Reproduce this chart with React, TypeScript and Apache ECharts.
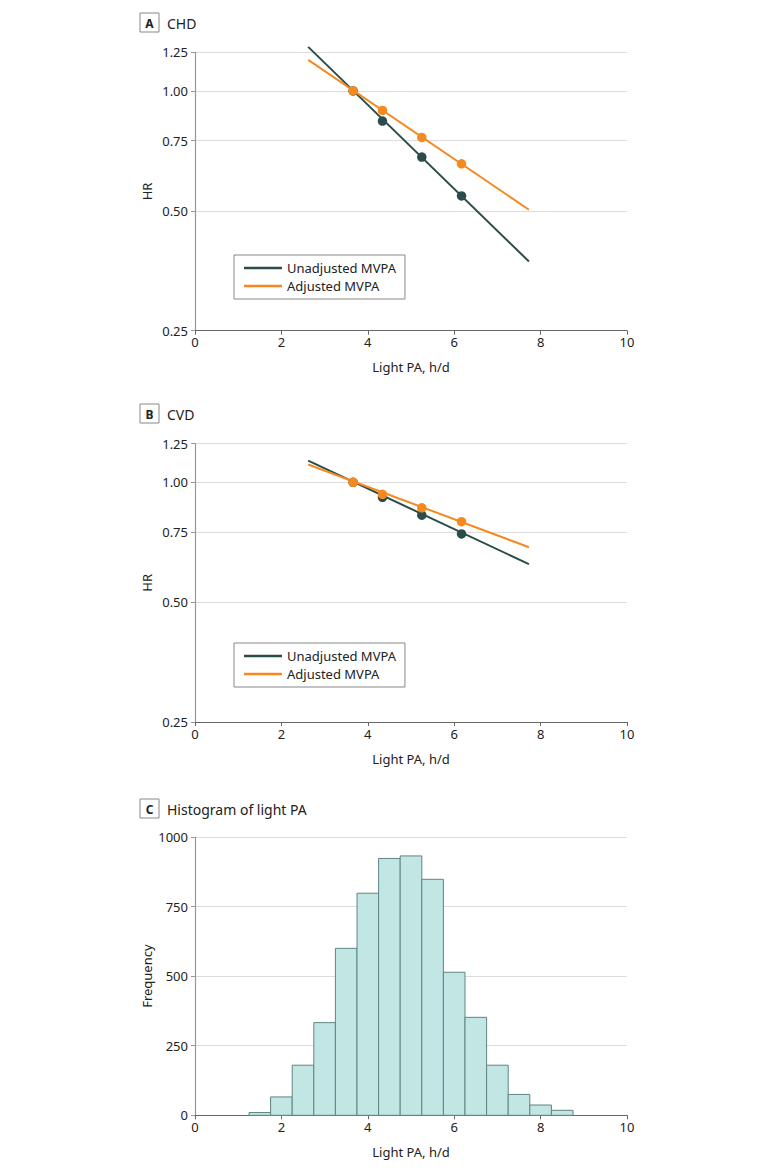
import React, { useEffect, useRef } from "react";
import * as echarts from "echarts";

// ---- Data ----
const hrTicks = [0.25, 0.5, 0.75, 1.0, 1.25];

// Panel A: CHD
const chdUnadjLine = [[2.62, 1.29], [7.73, 0.373]];
const chdUnadjPoints = [[3.66, 1.0], [4.34, 0.84], [5.25, 0.682], [6.17, 0.545]];
const chdAdjLine = [[2.62, 1.196], [7.73, 0.503]];
const chdAdjPoints = [[3.66, 1.0], [4.34, 0.893], [5.25, 0.764], [6.17, 0.656]];

// Panel B: CVD
const cvdUnadjLine = [[2.62, 1.133], [7.73, 0.623]];
const cvdUnadjPoints = [[3.66, 1.0], [4.34, 0.917], [5.25, 0.827], [6.17, 0.742]];
const cvdAdjLine = [[2.62, 1.108], [7.73, 0.687]];
const cvdAdjPoints = [[3.66, 1.0], [4.34, 0.933], [5.25, 0.863], [6.17, 0.796]];

// Panel C: histogram of light PA (bin starts, width 0.5 h/d)
const binStarts = [1.25, 1.75, 2.25, 2.75, 3.25, 3.75, 4.25, 4.75, 5.25, 5.75, 6.25, 6.75, 7.25, 7.75, 8.25];
const binWidth = 0.5;
const binCounts = [10, 66, 180, 333, 600, 798, 923, 932, 848, 514, 352, 180, 75, 37, 18];

const seriesNames = ["Unadjusted MVPA", "Adjusted MVPA"];

const DARK = "#2b4d4a";
const ORANGE = "#f5891f";
const FONT = "Noto Sans";

export default function App() {
  const ref = useRef<HTMLDivElement>(null);

  useEffect(() => {
    document.body.style.margin = "0";
    const chart = echarts.init(ref.current!, null, { renderer: "svg" });

    const grids = [
      { left: 195, top: 52.3, width: 432, height: 278.4 },
      { left: 195, top: 443.7, width: 432, height: 278.3 },
      { left: 195, top: 837, width: 432, height: 278.3 },
    ];

    const xAxis = [0, 1, 2].map((i) => ({
      type: "value",
      gridIndex: i,
      min: 0,
      max: 10,
      interval: 2,
      name: "Light PA, h/d",
      nameLocation: "middle",
      nameGap: 30,
      nameTextStyle: { fontFamily: FONT, fontSize: 13, color: "#222" },
      axisLine: { show: true, lineStyle: { color: "#666", width: 1.2 } },
      axisTick: { show: true, length: 4, lineStyle: { color: "#666" } },
      axisLabel: { fontFamily: FONT, fontSize: 13, color: "#222", margin: 5 },
      splitLine: { show: false },
    }));

    const hrAxis = (i: number) => ({
      type: "log",
      logBase: 10,
      gridIndex: i,
      min: 0.25,
      max: 1.25,
      name: "HR",
      nameLocation: "middle",
      nameGap: 42,
      nameMoveOverlap: false,
      nameTextStyle: { fontFamily: FONT, fontSize: 13, color: "#222" },
      axisLine: { show: true, lineStyle: { color: "#999", width: 1.2 } },
      axisTick: { show: true, length: 4, lineStyle: { color: "#999" }, customValues: hrTicks },
      axisLabel: {
        fontFamily: FONT,
        fontSize: 13,
        color: "#222",
        margin: 7,
        customValues: hrTicks,
        formatter: (v: number) => Number(v).toFixed(2),
      },
      splitLine: { show: true, lineStyle: { color: "#dcdcdc", width: 1.2 } },
    });

    const yAxis = [
      hrAxis(0),
      hrAxis(1),
      {
        type: "value",
        gridIndex: 2,
        min: 0,
        max: 1000,
        interval: 250,
        name: "Frequency",
        nameLocation: "middle",
        nameGap: 42,
        nameMoveOverlap: false,
        nameTextStyle: { fontFamily: FONT, fontSize: 13, color: "#222" },
        axisLine: { show: true, lineStyle: { color: "#999", width: 1.2 } },
        axisTick: { show: true, length: 4, lineStyle: { color: "#999" } },
        axisLabel: {
          fontFamily: FONT,
          fontSize: 13,
          color: "#222",
          margin: 7,
          formatter: (v: number) => String(v),
        },
        splitLine: { show: true, lineStyle: { color: "#dcdcdc", width: 1.2 } },
      },
    ];

    const lineSeries = (name: string, data: number[][], idx: number, color: string, z: number) => ({
      type: "line",
      name,
      xAxisIndex: idx,
      yAxisIndex: idx,
      data,
      color,
      symbol: "none",
      clip: false,
      lineStyle: { color, width: 2 },
      z,
      silent: true,
    });
    const pointSeries = (name: string, data: number[][], idx: number, color: string, z: number) => ({
      type: "scatter",
      name,
      xAxisIndex: idx,
      yAxisIndex: idx,
      data,
      color,
      symbol: "circle",
      symbolSize: 9.5,
      itemStyle: { color, opacity: 1 },
      z,
      silent: true,
    });

    const histData = binStarts.map((s, i) => [s, s + binWidth, binCounts[i]]);

    const legendBase = {
      orient: "vertical",
      data: seriesNames,
      icon: "rect",
      itemWidth: 38,
      itemHeight: 2.5,
      itemGap: 4,
      padding: [6, 9, 6, 10],
      borderColor: "#888",
      borderWidth: 1,
      selectedMode: false,
      textStyle: { fontFamily: FONT, fontSize: 13, color: "#222", lineHeight: 14 },
    };

    const panelLabel = (letter: string, title: string, top: number) => [
      {
        type: "rect",
        shape: { x: 140, y: top, width: 19, height: 19 },
        style: { fill: "#fff", stroke: "#888", lineWidth: 1 },
      },
      {
        type: "text",
        x: 149.5,
        y: top + 10,
        style: {
          text: letter,
          fontFamily: FONT,
          fontWeight: "bold",
          fontSize: 12,
          fill: "#222",
          align: "center",
          verticalAlign: "middle",
        },
      },
      {
        type: "text",
        x: 167,
        y: top + 10,
        style: {
          text: title,
          fontFamily: FONT,
          fontSize: 14,
          fill: "#222",
          align: "left",
          verticalAlign: "middle",
        },
      },
    ];

    chart.setOption({
      animation: false,
      backgroundColor: "#fff",
      grid: grids,
      xAxis,
      yAxis,
      legend: [
        { ...legendBase, left: 234, top: 255 },
        { ...legendBase, left: 234, top: 643 },
      ],
      graphic: [
        ...panelLabel("A", "CHD", 13),
        ...panelLabel("B", "CVD", 404),
        ...panelLabel("C", "Histogram of light PA", 799),
      ],
      series: [
        lineSeries(seriesNames[0], chdUnadjLine, 0, DARK, 2),
        pointSeries(seriesNames[0], chdUnadjPoints, 0, DARK, 3),
        lineSeries(seriesNames[1], chdAdjLine, 0, ORANGE, 4),
        pointSeries(seriesNames[1], chdAdjPoints, 0, ORANGE, 5),
        lineSeries(seriesNames[0], cvdUnadjLine, 1, DARK, 2),
        pointSeries(seriesNames[0], cvdUnadjPoints, 1, DARK, 3),
        lineSeries(seriesNames[1], cvdAdjLine, 1, ORANGE, 4),
        pointSeries(seriesNames[1], cvdAdjPoints, 1, ORANGE, 5),
        {
          type: "custom",
          name: "Histogram",
          xAxisIndex: 2,
          yAxisIndex: 2,
          data: histData,
          encode: { x: [0, 1], y: 2 },
          silent: true,
          renderItem: (params: any, api: any) => {
            const p0 = api.coord([api.value(0), api.value(2)]);
            const p1 = api.coord([api.value(1), 0]);
            return {
              type: "rect",
              shape: { x: p0[0], y: p0[1], width: p1[0] - p0[0], height: p1[1] - p0[1] },
              style: { fill: "#c2e6e4", stroke: "#5f8583", lineWidth: 1 },
            };
          },
        },
      ],
    });

    return () => chart.dispose();
  }, []);

  return <div ref={ref} style={{ width: 780, height: 1171 }} />;
}
